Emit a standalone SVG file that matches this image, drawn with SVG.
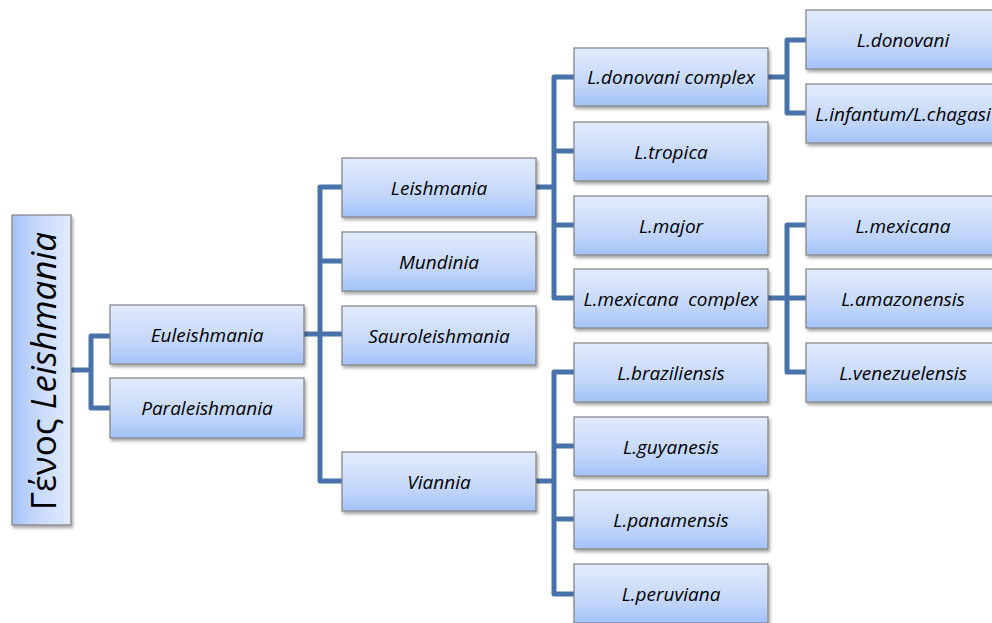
<svg xmlns="http://www.w3.org/2000/svg" width="992" height="623" viewBox="0 0 992 623">
<defs>
<linearGradient id="g" x1="0" y1="0" x2="0" y2="1">
<stop offset="0" stop-color="#e2ebfc"/>
<stop offset="0.6" stop-color="#c5d8fa"/>
<stop offset="1" stop-color="#a3c2f8"/>
</linearGradient>
<linearGradient id="gr" x1="1" y1="0" x2="0" y2="0">
<stop offset="0" stop-color="#e2ebfc"/>
<stop offset="0.6" stop-color="#c5d8fa"/>
<stop offset="1" stop-color="#a3c2f8"/>
</linearGradient>
<filter id="sh" x="-10%" y="-10%" width="130%" height="140%">
<feDropShadow dx="1.5" dy="2.5" stdDeviation="1.5" flood-color="#000" flood-opacity="0.35"/>
</filter>
</defs>
<style>
.b{fill:url(#g);stroke:#808080;stroke-width:1.2;filter:url(#sh)}
.t{font-family:"Open Sans",Lato,sans-serif;font-style:italic;font-size:19px;fill:#000;text-anchor:middle;dominant-baseline:central}
.c{fill:none;stroke:#4872aa;stroke-width:5;stroke-linejoin:round;stroke-linecap:butt}
</style>
<rect width="992" height="623" fill="#fff"/>
<g id="connectors">
<path class="c" d="M71 370H91M110 336H91V408H110"/>
<path class="c" d="M304 334H342M342 187H320V481H342M320 261H342"/>
<path class="c" d="M536 187H554M574 77H554V298H574M554 151H574M554 225H574"/>
<path class="c" d="M536 481H554M574 372H554V594H574M554 446H574M554 519H574"/>
<path class="c" d="M768 77H787M806 40H787V113H806"/>
<path class="c" d="M768 298H806M806 225H787V372H806"/>
</g>
<g id="root"><rect x="12" y="215" width="59" height="310" fill="url(#gr)" stroke="#808080" stroke-width="1.2" filter="url(#sh)"/>
<text transform="translate(42 371) rotate(-90)" font-family="'Open Sans',Lato,sans-serif" font-size="35" text-anchor="middle" dominant-baseline="central">Γένος <tspan font-style="italic">Leishmania</tspan></text></g>
<g id="euleishmania"><rect class="b" x="110" y="305" width="194" height="59"/><text class="t" x="207" y="334.5">Euleishmania</text></g>
<g id="paraleishmania"><rect class="b" x="110" y="378" width="194" height="60"/><text class="t" x="207" y="408">Paraleishmania</text></g>
<g id="leishmania"><rect class="b" x="342" y="158" width="194" height="59"/><text class="t" x="439" y="187.5">Leishmania</text></g>
<g id="mundinia"><rect class="b" x="342" y="232" width="194" height="59"/><text class="t" x="439" y="261.5">Mundinia</text></g>
<g id="sauroleishmania"><rect class="b" x="342" y="306" width="194" height="59"/><text class="t" x="439" y="335.5">Sauroleishmania</text></g>
<g id="viannia"><rect class="b" x="342" y="452" width="194" height="59"/><text class="t" x="439" y="481.5">Viannia</text></g>
<g id="ldonovani-complex"><rect class="b" x="574" y="48" width="194" height="58"/><text class="t" x="671" y="77">L.donovani complex</text></g>
<g id="ltropica"><rect class="b" x="574" y="122" width="194" height="59"/><text class="t" x="671" y="151.5">L.tropica</text></g>
<g id="lmajor"><rect class="b" x="574" y="196" width="194" height="59"/><text class="t" x="671" y="225.5">L.major</text></g>
<g id="lmexicana-complex"><rect class="b" x="574" y="269" width="194" height="59"/><text class="t" x="671" y="298.5" xml:space="preserve">L.mexicana  complex</text></g>
<g id="lbraziliensis"><rect class="b" x="574" y="343" width="194" height="59"/><text class="t" x="671" y="372.5">L.braziliensis</text></g>
<g id="lguyanesis"><rect class="b" x="574" y="417" width="194" height="59"/><text class="t" x="671" y="446.5">L.guyanesis</text></g>
<g id="lpanamensis"><rect class="b" x="574" y="490" width="194" height="59"/><text class="t" x="671" y="519.5">L.panamensis</text></g>
<g id="lperuviana"><rect class="b" x="574" y="564" width="194" height="59"/><text class="t" x="671" y="593.5">L.peruviana</text></g>
<g id="ldonovani"><rect class="b" x="806" y="10" width="194" height="59"/><text class="t" x="903" y="39.5">L.donovani</text></g>
<g id="linfantum"><rect class="b" x="806" y="84" width="194" height="59"/><text class="t" x="903" y="113.5">L.infantum/L.chagasi</text></g>
<g id="lmexicana"><rect class="b" x="806" y="196" width="194" height="59"/><text class="t" x="903" y="225.5">L.mexicana</text></g>
<g id="lamazonensis"><rect class="b" x="806" y="269" width="194" height="59"/><text class="t" x="903" y="298.5">L.amazonensis</text></g>
<g id="lvenezuelensis"><rect class="b" x="806" y="343" width="194" height="59"/><text class="t" x="903" y="372.5">L.venezuelensis</text></g>
</svg>
